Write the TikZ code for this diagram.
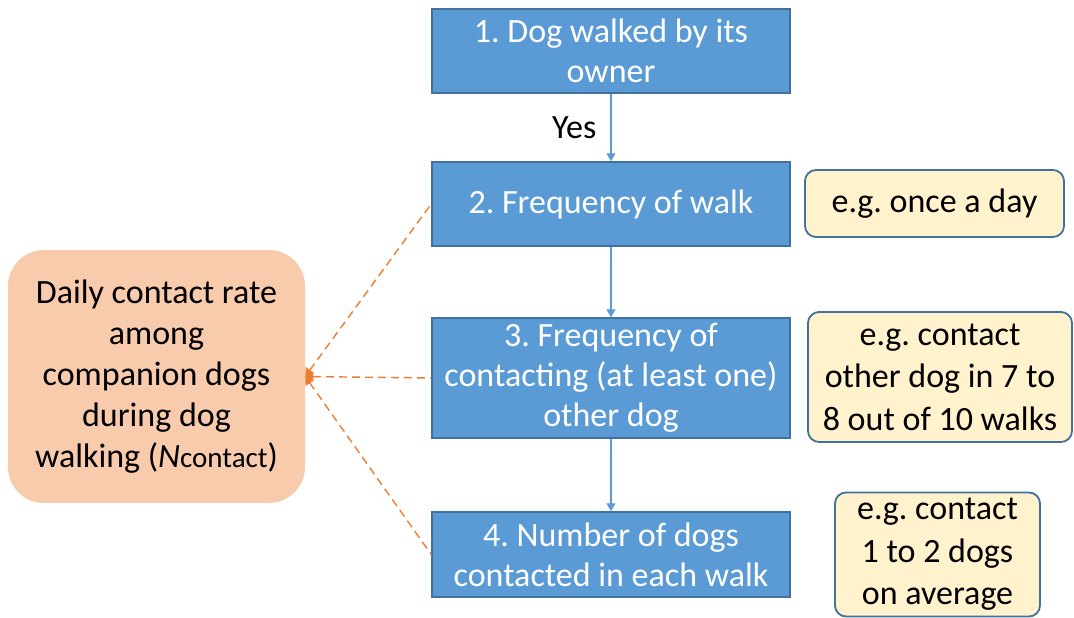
\documentclass[tikz,border=0pt]{standalone}
\usepackage{fontspec}
\setmainfont{Carlito}
\frenchspacing
\usetikzlibrary{arrows.meta}
\definecolor{stepblue}{HTML}{5B9BD5}
\definecolor{stepedge}{HTML}{41719C}
\definecolor{peach}{HTML}{F8CBAD}
\definecolor{cream}{HTML}{FFF2CC}
\definecolor{linkorange}{HTML}{ED7D31}
\tikzset{
  txt/.style={font=\fontsize{34}{40}\selectfont, align=center, inner sep=0pt},
  stepbox/.style={txt, draw=stepedge, line width=1.5pt, fill=stepblue, text=white,
    minimum width=358pt},
  example/.style={txt, font=\fontsize{34}{42.5}\selectfont, draw=stepedge, line width=1.8pt,
    fill=cream, text=black, rounded corners=11pt},
  target/.style={txt, font=\fontsize{34}{41}\selectfont, fill=peach, text=black,
    rounded corners=36pt, minimum width=297pt, minimum height=253pt},
  flow/.style={draw=stepblue, line width=1.2pt, -{Triangle[length=8pt,width=9pt]}},
  link/.style={draw=linkorange, line width=1.4pt, dash pattern=on 8pt off 5pt,
    {Triangle[length=8pt,width=10pt]}-},
}
\begin{document}
\begin{tikzpicture}[x=1pt,y=-1pt]
\useasboundingbox (0,0) rectangle (1074,618);

% main steps
\node[stepbox, minimum height=84pt] (s1) at (611,51) {1. Dog walked by its\\owner};
\node[stepbox, minimum height=84pt] (s2) at (611,204) {2. Frequency of walk};
\node[stepbox, minimum height=120pt] (s3) at (611,378) {3. Frequency of\\contacting (at least one)\\other dog};
\node[stepbox, minimum height=85pt] (s4) at (611,554.5) {4. Number of dogs\\contacted in each walk};

% outcome
\node[target] (rate) at (156.5,376.5) {Daily contact rate\\among\\companion dogs\\during dog\\walking (\textit{N}{\fontsize{29}{41}\selectfont contact})};

% examples
\node[example, minimum width=259pt, minimum height=67pt] (e1) at (934.5,203.5) {e.g. once a day};
\node[example, minimum width=264pt, minimum height=130pt] (e2) at (940,377) {e.g. contact\\other dog in 7 to\\8 out of 10 walks};
\node[example, minimum width=205pt, minimum height=124pt] (e3) at (937.5,554.5) {e.g. contact\\1 to 2 dogs\\on average};

% flow between steps
\draw[flow] (s1) -- node[txt, left=14pt, text=black] (yes) {Yes} (s2);
\draw[flow] (s2) -- (s3);
\draw[flow] (s3) -- (s4);

% steps feeding the contact rate
\draw[link] (rate.east) -- (s2.west);
\draw[link] (rate.east) -- (s3.west);
\draw[link] (rate.east) -- (s4.west);
\end{tikzpicture}
\end{document}
